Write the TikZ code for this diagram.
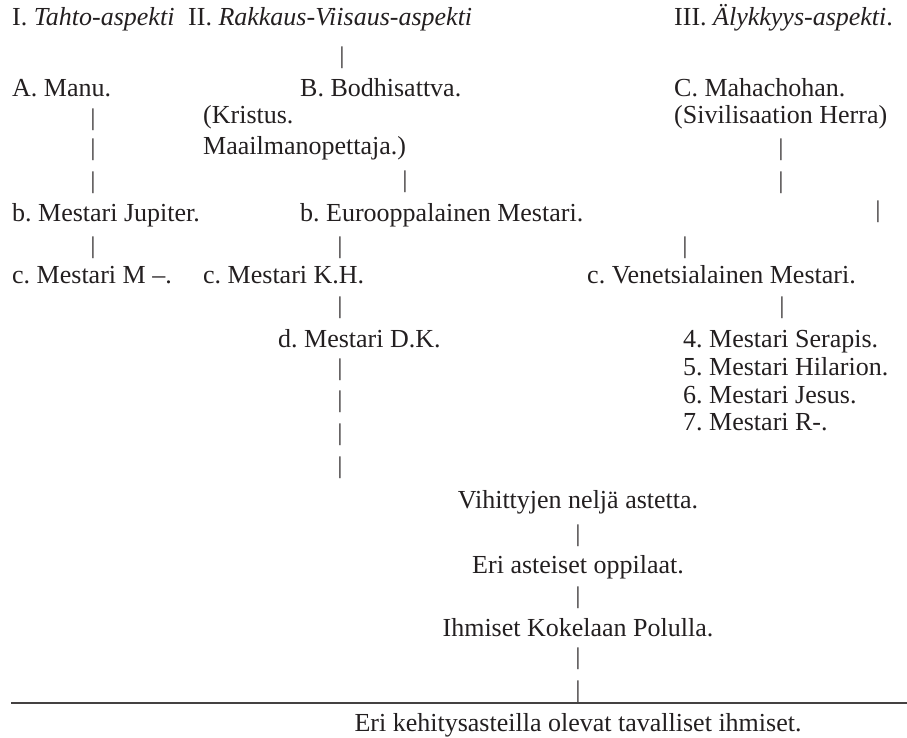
\documentclass[tikz,border=0pt]{standalone}
\usepackage{fontspec}
\setmainfont{Liberation Serif}
\definecolor{ink}{RGB}{35,31,32}
\frenchspacing
\begin{document}
\begin{tikzpicture}[x=1pt,y=-1pt,
  txt/.style={inner sep=0pt, text=ink, font=\fontsize{26}{31}\selectfont},
  lbl/.style={txt, anchor=base west},
  ctr/.style={txt, anchor=base},
  bar/.style={txt, anchor=center, font=\fontsize{24}{29}\selectfont}]
\useasboundingbox (0,0) rectangle (907,737);
% headers
\node[lbl] (h1) at (12,25) {I. \textit{Tahto-aspekti}};
\node[lbl] (h2) at (188,25) {II. \textit{Rakkaus-Viisaus-aspekti}};
\node[lbl] (h3) at (674,25) {III. \textit{Älykkyys-aspekti}.};
\node[bar] (v1) at (342,58) {|};
% row A
\node[lbl] (A) at (12,96) {A. Manu.};
\node[lbl] (B) at (300,96) {B. Bodhisattva.};
\node[lbl] (C) at (674,96) {C. Mahachohan.};
\node[bar] (va1) at (93,120) {|};
\node[lbl] (kr) at (203,123) {(Kristus.};
\node[lbl] (siv) at (674,123) {(Sivilisaation Herra)};
\node[bar] (va2) at (93,150) {|};
\node[lbl] (maa) at (203,154) {Maailmanopettaja.)};
\node[bar] (vc1) at (781,150) {|};
\node[bar] (va3) at (93,183) {|};
\node[bar] (vb1) at (405,182) {|};
\node[bar] (vc2) at (781,183) {|};
% row b
\node[lbl] (bj) at (12,221) {b. Mestari Jupiter.};
\node[lbl] (be) at (300,221) {b. Eurooppalainen Mestari.};
\node[bar] (vc3) at (878,212) {|};
\node[bar] (va4) at (93,248) {|};
\node[bar] (vb2) at (340,248) {|};
\node[bar] (vc4) at (685,248) {|};
% row c
\node[lbl] (cm) at (12,283) {c. Mestari M –.};
\node[lbl] (ck) at (203,283) {c. Mestari K.H.};
\node[lbl] (cv) at (587,283) {c. Venetsialainen Mestari.};
\node[bar] (vb3) at (340,308) {|};
\node[bar] (vc5) at (782,308) {|};
% row d
\node[lbl] (dk) at (278,347) {d. Mestari D.K.};
\node[lbl] (m4) at (683,347) {4. Mestari Serapis.};
\node[lbl] (m5) at (683,375) {5. Mestari Hilarion.};
\node[lbl] (m6) at (683,403) {6. Mestari Jesus.};
\node[lbl] (m7) at (683,430) {7. Mestari R-.};
\node[bar] (vd1) at (340,370) {|};
\node[bar] (vd2) at (340,402) {|};
\node[bar] (vd3) at (340,435) {|};
\node[bar] (vd4) at (340,468) {|};
% lower column
\node[ctr] (vih) at (578,508) {Vihittyjen neljä astetta.};
\node[bar] (ve1) at (578,536) {|};
\node[ctr] (opp) at (578,573) {Eri asteiset oppilaat.};
\node[bar] (ve2) at (578,598) {|};
\node[ctr] (kok) at (578,636) {Ihmiset Kokelaan Polulla.};
\node[bar] (ve3) at (578,659) {|};
\node[bar] (ve4) at (578,692) {|};
\coordinate (lineL) at (11,703);
\coordinate (lineR) at (907,703);
\draw[line width=1.3pt, draw=ink!85] (lineL) -- (lineR);
\node[ctr] (tav) at (578,731) {Eri kehitysasteilla olevat tavalliset ihmiset.};
\end{tikzpicture}
\end{document}
